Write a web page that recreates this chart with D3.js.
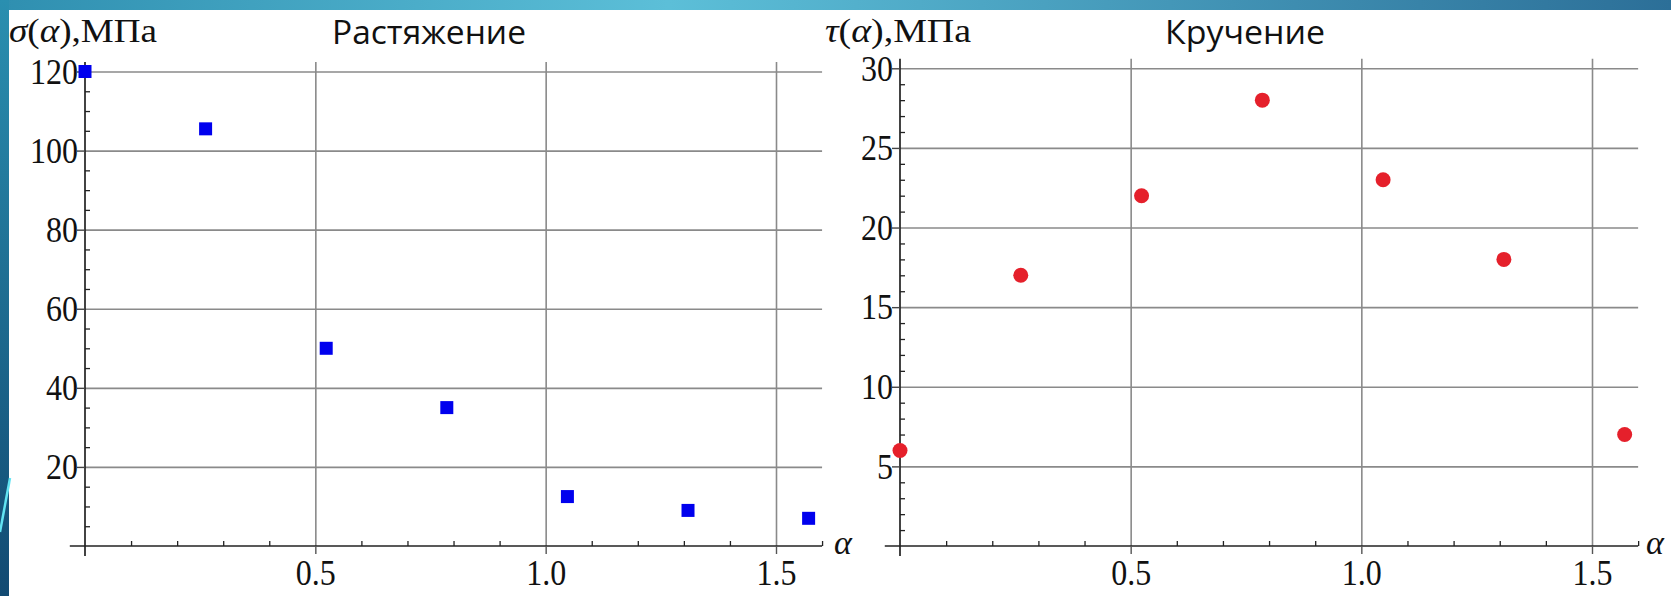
<!DOCTYPE html>
<html>
<head>
<meta charset="utf-8">
<script src="https://d3js.org/d3.v7.min.js"></script>
<style>
  body { margin: 0; background: #fff; }
  svg { display: block; }
  .tick text { font-family: "Liberation Serif", "Times New Roman", serif; fill: #111; }
</style>
</head>
<body>
<svg width="1671" height="596"></svg>
<script>
// values (alpha in radians, 0..pi/2 step pi/12)
const alpha = [0, 0.2618, 0.5236, 0.7854, 1.0472, 1.309, 1.5708];
const sigma = [120, 105.5, 50, 35, 12.5, 9, 7];   // Растяжение, МПа
const tau = [6, 17, 22, 28, 23, 18, 7];           // Кручение, МПа

const alphaTicks = [0.5, 1.0, 1.5];
const alphaMinor = [0.1, 0.2, 0.3, 0.4, 0.6, 0.7, 0.8, 0.9, 1.1, 1.2, 1.3, 1.4, 1.6];
const sigmaTicks = [20, 40, 60, 80, 100, 120];
const sigmaMinor = [5, 10, 15, 25, 30, 35, 45, 50, 55, 65, 70, 75, 85, 90, 95, 105, 110, 115];
const tauTicks = [5, 10, 15, 20, 25, 30];
const tauMinor = [1, 2, 3, 4, 6, 7, 8, 9, 11, 12, 13, 14, 16, 17, 18, 19, 21, 22, 23, 24, 26, 27, 28, 29];

const titles = ["Растяжение", "Кручение"];
const yNames = ["σ", "τ"];

let svg = d3.select("svg");

// slide decoration: top band and left strip
let defs = svg.append("defs");
let gTop = defs.append("linearGradient").attr("id", "topband");
gTop.append("stop").attr("offset", "0%").attr("stop-color", "#2f8fb0");
gTop.append("stop").attr("offset", "40%").attr("stop-color", "#5cbfd8");
gTop.append("stop").attr("offset", "100%").attr("stop-color", "#2c6f98");
let gLeft = defs.append("linearGradient").attr("id", "leftband")
    .attr("x1", 0).attr("y1", 0).attr("x2", 0).attr("y2", 1);
gLeft.append("stop").attr("offset", "0%").attr("stop-color", "#2a8fb0");
gLeft.append("stop").attr("offset", "100%").attr("stop-color", "#124a72");

svg.append("rect").attr("x", 0).attr("y", 0).attr("width", 1671).attr("height", 10).attr("fill", "url(#topband)");
svg.append("rect").attr("x", 0).attr("y", 0).attr("width", 9).attr("height", 596).attr("fill", "url(#leftband)");
svg.append("line").attr("x1", 10).attr("y1", 478).attr("x2", 0).attr("y2", 532)
    .attr("stroke", "#62e3f2").attr("stroke-width", 2.5);

const panels = [
    {
        x: d3.scaleLinear().domain([0, 1.5]).range([85, 776]),
        y: d3.scaleLinear().domain([0, 120]).range([546, 71.5]),
        yTop: 122.4, xMin: -0.033, xMax: 1.6,
        ticks: sigmaTicks, minor: sigmaMinor, values: sigma,
        labelX: 9, labelW: 148, titleX: 332, titleW: 194, alphaX: 834
    },
    {
        x: d3.scaleLinear().domain([0, 1.5]).range([900, 1592]),
        y: d3.scaleLinear().domain([0, 30]).range([546, 68.3]),
        yTop: 30.6, xMin: -0.033, xMax: 1.6,
        ticks: tauTicks, minor: tauMinor, values: tau,
        labelX: 825, labelW: 146, titleX: 1165, titleW: 160, alphaX: 1646
    }
];

panels.forEach(function(p, k) {
    let g = svg.append("g");
    let x = p.x, y = p.y;
    let x0 = x(0), y0 = y(0);

    // grid
    g.append("g")
        .attr("transform", `translate(0,${y0})`)
        .call(d3.axisBottom(x).tickValues(alphaTicks).tickSize(-(y0 - y(p.yTop))).tickFormat(""))
        .call(s => s.select(".domain").remove())
        .selectAll("line").attr("stroke", "#8a8a8a").attr("stroke-width", 1.6);
    g.append("g")
        .attr("transform", `translate(${x0},0)`)
        .call(d3.axisRight(y).tickValues(p.ticks).tickSize(x(p.xMax) - x0).tickFormat(""))
        .call(s => s.select(".domain").remove())
        .selectAll("line").attr("stroke", "#8a8a8a").attr("stroke-width", 1.6);

    // x axis line
    g.append("line")
        .attr("x1", x(p.xMin)).attr("x2", x(p.xMax))
        .attr("y1", y0).attr("y2", y0)
        .attr("stroke", "#222").attr("stroke-width", 1.7);
    // y axis line
    g.append("line")
        .attr("x1", x0).attr("x2", x0)
        .attr("y1", y(p.yTop)).attr("y2", y0 + 10)
        .attr("stroke", "#222").attr("stroke-width", 1.7);

    // x major ticks + labels
    let xa = g.append("g")
        .attr("transform", `translate(0,${y0})`)
        .call(d3.axisBottom(x).tickValues(alphaTicks).tickSize(8).tickPadding(3).tickFormat(d3.format(".1f")));
    xa.select(".domain").remove();
    xa.selectAll("line").attr("stroke", "#555").attr("stroke-width", 1.4);
    xa.selectAll("text").attr("font-size", 32).attr("transform", "scale(1,1.15)");

    // x minor ticks
    let xm = g.append("g")
        .attr("transform", `translate(0,${y0})`)
        .call(d3.axisTop(x).tickValues(alphaMinor).tickSize(5).tickFormat(""));
    xm.select(".domain").remove();
    xm.selectAll("line").attr("stroke", "#222").attr("stroke-width", 1.3);

    // y major ticks + labels
    let ya = g.append("g")
        .attr("transform", `translate(${x0},0)`)
        .call(d3.axisLeft(y).tickValues(p.ticks).tickSize(8).tickPadding(-1));
    ya.select(".domain").remove();
    ya.selectAll("line").attr("stroke", "#444").attr("stroke-width", 1.4);
    ya.selectAll("text").attr("font-size", 32).attr("transform", "scale(1,1.15)");

    // y minor ticks
    let ym = g.append("g")
        .attr("transform", `translate(${x0},0)`)
        .call(d3.axisRight(y).tickValues(p.minor).tickSize(5).tickFormat(""));
    ym.select(".domain").remove();
    ym.selectAll("line").attr("stroke", "#222").attr("stroke-width", 1.3);

    // axis labels
    let lab = g.append("text")
        .attr("x", p.labelX).attr("y", 42)
        .attr("font-family", "Liberation Serif, Times New Roman, serif")
        .attr("font-size", 34).attr("fill", "#111")
        .attr("textLength", p.labelW).attr("lengthAdjust", "spacingAndGlyphs");
    lab.append("tspan").attr("font-style", "italic").text(yNames[k]);
    lab.append("tspan").text("(");
    lab.append("tspan").attr("font-style", "italic").text("α");
    lab.append("tspan").text("),МПа");

    g.append("text")
        .attr("x", p.alphaX).attr("y", 554)
        .attr("font-family", "Liberation Serif, Times New Roman, serif")
        .attr("font-style", "italic").attr("font-size", 34).attr("fill", "#111")
        .text("α");

    // title
    g.append("text")
        .attr("x", p.titleX).attr("y", 44)
        .attr("font-family", "Open Sans, Noto Sans, sans-serif")
        .attr("font-size", 33).attr("fill", "#111")
        .attr("textLength", p.titleW).attr("lengthAdjust", "spacingAndGlyphs")
        .text(titles[k]);

    // marks
    if (k === 0) {
        g.selectAll("rect.pt")
            .data(p.values)
            .enter()
            .append("rect")
            .attr("class", "pt")
            .attr("x", (d, i) => x(alpha[i]) - 6.5)
            .attr("y", d => y(d) - 6.5)
            .attr("width", 13).attr("height", 13)
            .attr("fill", "#0000ee");
    } else {
        g.selectAll("circle.pt")
            .data(p.values)
            .enter()
            .append("circle")
            .attr("class", "pt")
            .attr("cx", (d, i) => x(alpha[i]))
            .attr("cy", d => y(d))
            .attr("r", 7.5)
            .attr("fill", "#e5202b");
    }
});
</script>
</body>
</html>
